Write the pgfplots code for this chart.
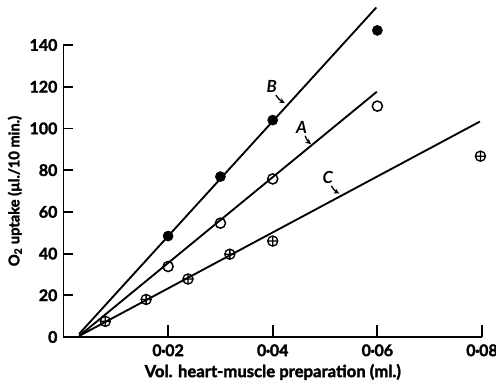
\documentclass[border=0pt]{standalone}
\usepackage{pgfplots}
\pgfplotsset{compat=1.18}
\usepackage{fontspec}
\setmainfont{Lato}[BoldFeatures={FakeBold=2}]
\usetikzlibrary{arrows.meta,calc}
\begin{document}
\begin{tikzpicture}
\begin{axis}[name=ax,
  scale only axis, width=313.9pt, height=219pt,
  xmin=0, xmax=0.08, ymin=0, ymax=140,
  axis lines=left,
  axis line style={-, line width=1.4pt},
  clip=false,
  scaled x ticks=false,
  xtick={0.02,0.04,0.06,0.08},
  xticklabels={0\kern-0.3pt·\kern-0.3pt02,0\kern-0.3pt·\kern-0.3pt04,0\kern-0.3pt·\kern-0.3pt06,0\kern-0.3pt·\kern-0.3pt08},
  ytick={0,20,40,60,80,100,120,140},
  tick align=inside,
  major tick length=9pt,
  xtick style={draw=black, line width=1.4pt},
  ytick style={draw=none},
  /pgf/number format/assume math mode=true,
  tick label style={font=\fontsize{12}{14}\selectfont\bfseries},
  xticklabel style={yshift=-2pt},
  yticklabel style={xshift=-1pt},
  xlabel={Vol. heart-muscle preparation (ml.)},
  ylabel={O\textsubscript{2} uptake (µl./10 min.)},
  xlabel style={font=\fontsize{12.5}{14}\selectfont\bfseries, yshift=1pt},
  ylabel style={font=\fontsize{11}{13}\selectfont\bfseries, yshift=-1pt},
]
% fitted lines
\addplot[line width=1.4pt] coordinates {(0.003,1.5) (0.0598,158)};
\addplot[line width=1.4pt] coordinates {(0.003,0.5) (0.0599,117.6)};
\addplot[line width=1.4pt] coordinates {(0.003,0.5) (0.0796,103.3)};
% B: filled circles
\addplot[only marks, mark=*, mark size=3.8pt, mark options={fill=black}] coordinates {
 (0.02,48.4) (0.03,76.9) (0.04,104) (0.06,147)};
% A: open circles
\addplot[only marks, mark=o, mark size=3.8pt, mark options={line width=1.1pt, fill=white}] coordinates {
 (0.02,33.8) (0.03,54.6) (0.04,75.8) (0.06,110.7)};
% C: crossed circles
\addplot[only marks, mark=oplus, mark size=3.8pt, mark options={line width=1.0pt, fill=white}] coordinates {
 (0.008,7.5) (0.0158,18.0) (0.0238,27.8) (0.0318,39.7) (0.04,46) (0.0797,86.7)};
% y tick marks pointing into the plot
\draw[line width=1.4pt] (axis cs:0,20) -- ++(7pt,0);
\draw[line width=1.4pt] (axis cs:0,40) -- ++(7pt,0);
\draw[line width=1.4pt] (axis cs:0,60) -- ++(7pt,0);
\draw[line width=1.4pt] (axis cs:0,80) -- ++(7pt,0);
\draw[line width=1.4pt] (axis cs:0,100) -- ++(7pt,0);
\draw[line width=1.4pt] (axis cs:0,120) -- ++(7pt,0);
\draw[line width=1.4pt] (axis cs:0,140) -- ++(7pt,0);
% labels
\node[font=\fontsize{12.5}{14}\selectfont\bfseries\itshape] (lb) at (axis cs:0.0398,120) {B};
\draw[line width=1pt, -{Stealth[length=4pt,width=4pt]}] (axis cs:0.0406,116) to[bend right=15] (axis cs:0.0423,112.2);
\node[font=\fontsize{12.5}{14}\selectfont\bfseries\itshape] (la) at (axis cs:0.0455,100.5) {A};
\draw[line width=1pt, -{Stealth[length=4pt,width=4pt]}] (axis cs:0.0462,96.5) to[bend right=15] (axis cs:0.0473,92.5);
\node[font=\fontsize{12.5}{14}\selectfont\bfseries\itshape] (lc) at (axis cs:0.0505,76.5) {C};
\draw[line width=1pt, -{Stealth[length=4pt,width=4pt]}] (axis cs:0.0512,72.5) to[bend right=15] (axis cs:0.0527,68.8);
\end{axis}
\pgfresetboundingbox
\path (ax.south west) ++(-47.6pt,-32.25pt) rectangle ($(ax.north east)+(10.5pt,33.75pt)$);
\end{tikzpicture}
\end{document}
